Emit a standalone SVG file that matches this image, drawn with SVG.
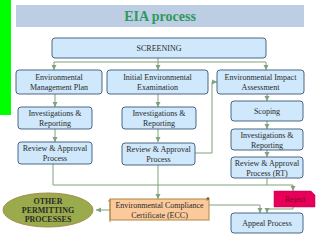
<svg xmlns="http://www.w3.org/2000/svg" width="320" height="240" viewBox="0 0 320 240">
<style>
.box{fill:#cfe8fb;stroke:#4a6686;stroke-width:1}
.t{font-family:"Liberation Serif","Times New Roman",serif;font-size:8px;fill:#2a2a2a;text-anchor:middle}
.c{fill:none;stroke:#7fa37a;stroke-width:1}
.b{font-weight:bold}
</style>
<defs>
<marker id="ah" markerWidth="6" markerHeight="6" refX="5" refY="3" orient="auto" markerUnits="userSpaceOnUse">
<path d="M0,0.5 L5,3 L0,5.5 Z" fill="#7fa37a"/>
</marker>
</defs>
<rect x="0" y="0" width="11" height="115" fill="#00ff00"/>
<rect x="16" y="5" width="288" height="22" fill="#bccde4"/>
<text x="160" y="21" font-family="Liberation Serif,serif" font-size="14" font-weight="bold" fill="#2f9a5c" text-anchor="middle">EIA process</text>

<g id="connectors">
<path class="c" d="M158,58 V62 M54,62 H266"/>
<path class="c" d="M54,62 V70" marker-end="url(#ah)"/>
<path class="c" d="M158,62 V70" marker-end="url(#ah)"/>
<path class="c" d="M266,62 V70" marker-end="url(#ah)"/>
<path class="c" d="M55,94 V107" marker-end="url(#ah)"/>
<path class="c" d="M55,129 V142" marker-end="url(#ah)"/>
<path class="c" d="M158,94 V107" marker-end="url(#ah)"/>
<path class="c" d="M158,129 V142" marker-end="url(#ah)"/>
<path class="c" d="M267,94 V101" marker-end="url(#ah)"/>
<path class="c" d="M267,121 V129" marker-end="url(#ah)"/>
<path class="c" d="M267,150 V157" marker-end="url(#ah)"/>
<path class="c" d="M195,153 H212 V82 H217" marker-end="url(#ah)"/>
<path class="c" d="M53,164 V185 H267 M267,178 V185 H293 V191" marker-end="url(#ah)"/>
<path class="c" d="M158,165 V199" marker-end="url(#ah)"/>
<path class="c" d="M110,210 H96" marker-end="url(#ah)"/>
<path class="c" d="M209,205 H260 V213" marker-end="url(#ah)"/>
<path class="c" d="M293,206 V209 H267 V213" marker-end="url(#ah)"/>
</g>

<g id="screening"><rect class="box" x="52" y="38" width="214" height="20" rx="3"/><text class="t" x="159" y="51">SCREENING</text></g>
<g id="emp"><rect class="box" x="16" y="70" width="86" height="24" rx="3"/><text class="t" x="59" y="80">Environmental</text><text class="t" x="59" y="90">Management Plan</text></g>
<g id="iee"><rect class="box" x="107" y="70" width="101" height="24" rx="3"/><text class="t" x="157.5" y="80">Initial Environmental</text><text class="t" x="157.5" y="90">Examination</text></g>
<g id="eia"><rect class="box" x="217" y="70" width="87" height="24" rx="3"/><text class="t" x="260.5" y="80">Environmental Impact</text><text class="t" x="260.5" y="90">Assessment</text></g>

<g id="inv1"><rect class="box" x="18" y="107" width="74" height="22" rx="3"/><text class="t" x="55" y="116">Investigations &amp;</text><text class="t" x="55" y="126">Reporting</text></g>
<g id="rev1"><rect class="box" x="18" y="142" width="74" height="22" rx="3"/><text class="t" x="55" y="151">Review &amp; Approval</text><text class="t" x="55" y="161">Process</text></g>
<g id="inv2"><rect class="box" x="122" y="107" width="74" height="22" rx="3"/><text class="t" x="159" y="116">Investigations &amp;</text><text class="t" x="159" y="126">Reporting</text></g>
<g id="rev2"><rect class="box" x="122" y="143" width="73" height="22" rx="3"/><text class="t" x="158.5" y="152">Review &amp; Approval</text><text class="t" x="158.5" y="162">Process</text></g>

<g id="scoping"><rect class="box" x="231" y="101" width="72" height="20" rx="3"/><text class="t" x="267" y="114">Scoping</text></g>
<g id="inv3"><rect class="box" x="231" y="129" width="72" height="21" rx="3"/><text class="t" x="267" y="138">Investigations &amp;</text><text class="t" x="267" y="147.5">Reporting</text></g>
<g id="rev3"><rect class="box" x="231" y="157" width="72" height="21" rx="3"/><text class="t" x="267" y="166">Review &amp; Approval</text><text class="t" x="267" y="175.5">Process (RT)</text></g>

<g id="ecc">
<rect x="110" y="199" width="99" height="21" fill="#fbc99a" stroke="#b08848" stroke-width="1"/>
<path d="M110,199 v23 M108,201 h3 M207,198 v3" fill="none" stroke="#b08848" stroke-width="1"/>
<circle cx="208" cy="198.5" r="1.3" fill="#7a6030"/>
<text class="t" x="159.5" y="208">Environmental Compliance</text><text class="t" x="159.5" y="217.5">Certificate (ECC)</text>
</g>
<g id="other">
<ellipse cx="48" cy="210" rx="45" ry="17" fill="#9aab4c" stroke="#a88a50" stroke-width="1"/>
<text class="t b" x="48" y="204" font-size="7.5">OTHER</text><text class="t b" x="48" y="213" font-size="7.5">PERMITTING</text><text class="t b" x="48" y="222" font-size="7.5">PROCESSES</text>
</g>
<g id="reject">
<path d="M274,191 H311 L315,195 V207 H274 Z" fill="#e6005a" stroke="#c0004a" stroke-width="0.5"/>
<text class="t" x="295" y="202" style="fill:#8a0020">Reject</text>
</g>
<g id="appeal"><rect class="box" x="231" y="213" width="72" height="20" rx="3"/><text class="t" x="267" y="226">Appeal Process</text></g>
</svg>
